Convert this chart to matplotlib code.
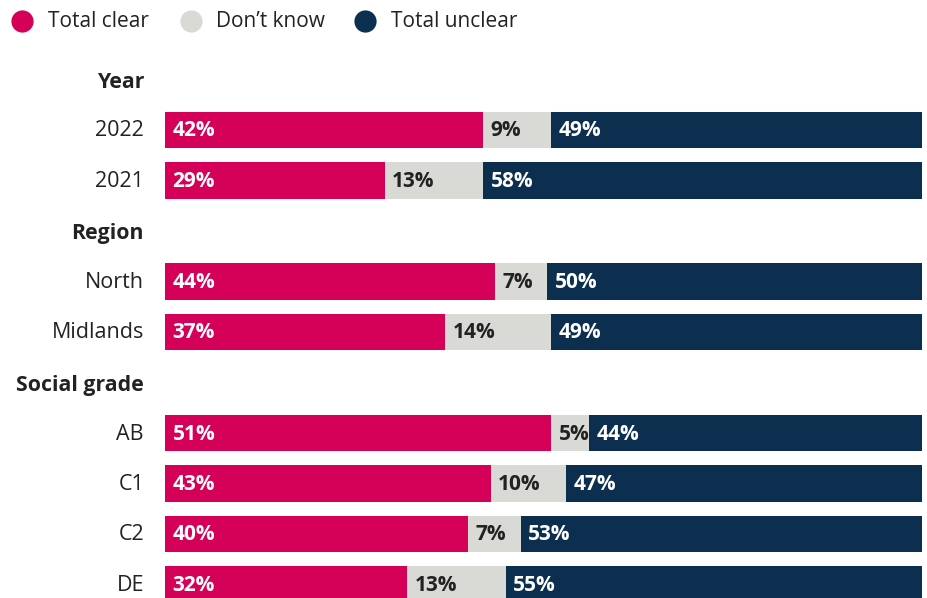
import matplotlib.pyplot as plt

plt.rcParams['font.family'] = ['Open Sans', 'DejaVu Sans']

# Survey results: share who find it clear / don't know / unclear
groups = ["Year", "Region", "Social grade"]
group_sizes = [2, 2, 4]
categories = ["2022", "2021", "North", "Midlands", "AB", "C1", "C2", "DE"]
total_clear = [42, 29, 44, 37, 51, 43, 40, 32]
dont_know = [9, 13, 7, 14, 5, 10, 7, 13]
total_unclear = [49, 58, 50, 49, 44, 47, 53, 55]

series_names = ["Total clear", "Don\u2019t know", "Total unclear"]
colors = ["#D50057", "#D9D9D6", "#0C2F50"]
label_colors = ["white", "#222222", "white"]
text_color = "#222222"

W, H = 927, 598
fig = plt.figure(figsize=(W / 100, H / 100), dpi=100)

# Row slots: each group gets a header slot followed by its category rows
slot_px = 50.5
first_px = 79.5
ax = fig.add_axes([165 / W, 0, 757 / W, 1])
ax.set_xlim(0, 100)
ax.set_ylim((H - first_px) / slot_px, -first_px / slot_px)
ax.axis("off")

header_pos = []
row_pos = []
slot = 0
for size in group_sizes:
    header_pos.append(slot)
    slot += 1
    for _ in range(size):
        row_pos.append(slot)
        slot += 1

series = [total_clear, dont_know, total_unclear]
for i, y in enumerate(row_pos):
    vals = [s[i] for s in series]
    total = sum(vals)
    left = 0.0
    for k, v in enumerate(vals):
        width = v / total * 100
        ax.barh(y, width, left=left, height=0.713, color=colors[k], linewidth=0)
        ax.annotate(f"{v}%", xy=(left, y), xytext=(7.5, -1), textcoords="offset pixels",
                    ha="left", va="center", fontsize=15, fontweight="bold",
                    color=label_colors[k])
        left += width
    ax.annotate(categories[i], xy=(0, y), xytext=(-21, -1), textcoords="offset pixels",
                ha="right", va="center", fontsize=15.5, color=text_color)

for g, y in zip(groups, header_pos):
    ax.annotate(g, xy=(0, y), xytext=(-21, -3), textcoords="offset pixels",
                ha="right", va="center", fontsize=15.3, fontweight="bold", color=text_color)

# Legend row along the top
lax = fig.add_axes([0, 0, 1, 1])
lax.set_xlim(0, W)
lax.set_ylim(H, 0)
lax.axis("off")
legend_circle_x = [22.5, 190.7, 365.5]
legend_text_x = [48.5, 216.5, 391]
for name, c, cx, tx in zip(series_names, colors, legend_circle_x, legend_text_x):
    lax.plot(cx, 21, marker="o", ms=16, color=c, mec="none", ls="")
    lax.text(tx, 21.5, name, ha="left", va="center", fontsize=15, color=text_color)

fig.savefig("out.png", dpi=100)
